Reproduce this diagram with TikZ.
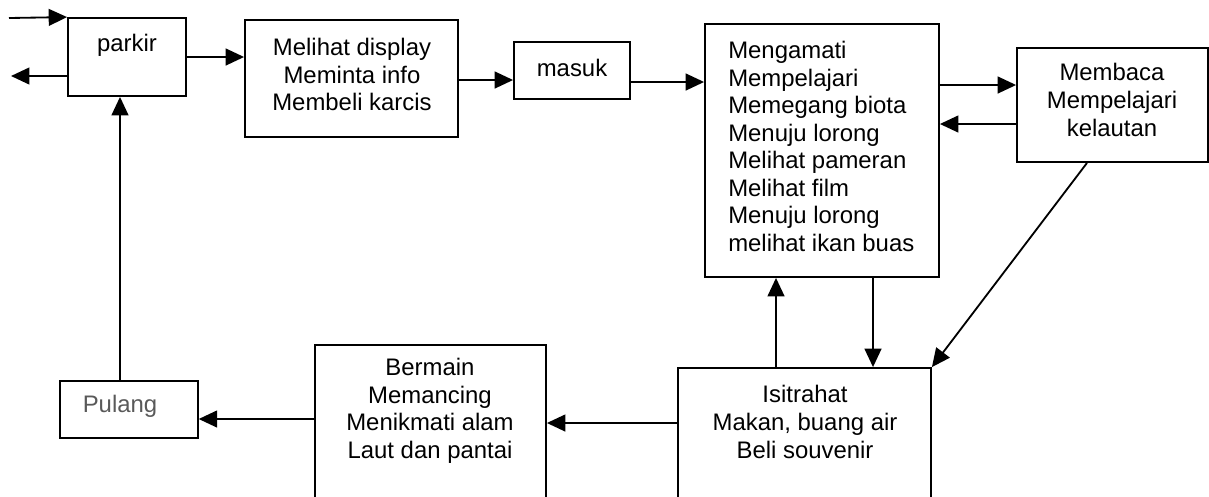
\documentclass[tikz,border=0pt]{standalone}
\usepackage{fontspec}
\setmainfont{Liberation Sans}
\usetikzlibrary{arrows.meta, fit}

\tikzset{
	box/.style={draw, line width=1.3pt, inner sep=0pt},
	lbl/.style={font=\fontsize{17}{19.6}\selectfont, align=center, inner sep=0pt},
	arr/.style={line width=1.3pt, -{Triangle[length=0.46cm, width=0.42cm]}}
}

\begin{document}
\begin{tikzpicture}[x=0.025cm, y=-0.025cm]
	\useasboundingbox (0,0) rectangle (1209,496);
	
	% boxes
	\node[box, fit={(68,18) (186,96)}] (parkir) {};
	\node[box, fit={(245,20) (458,137)}] (melihat) {};
	\node[box, fit={(514,42) (630,99)}] (masuk) {};
	\node[box, fit={(705,24) (939,277)}] (mengamati) {};
	\node[box, fit={(1017,48) (1208,162)}] (membaca) {};
	\node[box, fit={(678,368) (931,512)}] (isitrahat) {};
	\node[box, fit={(315,345) (546,512)}] (bermain) {};
	\node[box, line width=1pt, fit={(60,381) (198,438)}] (pulang) {};
	
	% texts
	\node[lbl] (parkirT) at (127,45) {parkir};
	\node[lbl] (melihatT) at (352,74.5) {Melihat display\\Meminta info\\Membeli karcis};
	\node[lbl] (masukT) at (572,68) {masuk};
	\node[lbl, align=left, anchor=west] (mengamatiT) at (728,146.5) {Mengamati\\Mempelajari\\Memegang biota\\Menuju lorong\\Melihat pameran\\Melihat film\\Menuju lorong\\melihat ikan buas};
	\node[lbl] (membacaT) at (1112,100) {Membaca\\Mempelajari\\kelautan};
	\node[lbl] (isitrahatT) at (805,422) {Isitrahat\\Makan, buang air\\Beli souvenir};
	\node[lbl] (bermainT) at (430,411) {Bermain\\Memancing\\Menikmati alam\\Laut dan pantai};
	\node[lbl, text=black!65] (pulangT) at (120,406) {Pulang};
	
	% connectors
	\coordinate (masukIn) at (9,18);
	\coordinate (keluar) at (11,76);
	\draw[arr] (masukIn) -- (parkir.north west);
	\draw[arr] (parkir.west |- keluar) -- (keluar);
	\draw[arr] (parkir.east) -- (melihat.west |- parkir.east);
	\draw[arr] (melihat.east |- 0,80) -- (masuk.west |- 0,80);
	\draw[arr] (masuk.east |- 0,82) -- (mengamati.west |- 0,82);
	\draw[arr] (mengamati.east |- 0,85) -- (membaca.west |- 0,85);
	\draw[arr] (membaca.west |- 0,124) -- (mengamati.east |- 0,124);
	\draw[arr] (membaca.south -| 1087,0) -- (isitrahat.north east);
	\draw[arr] (mengamati.south -| 873,0) -- (isitrahat.north -| 873,0);
	\draw[arr] (isitrahat.north -| 776,0) -- (mengamati.south -| 776,0);
	\draw[arr] (isitrahat.west |- 0,423) -- (bermain.east |- 0,423);
	\draw[arr] (bermain.west |- 0,419) -- (pulang.east |- 0,419);
	\draw[arr] (pulang.north -| 120,0) -- (parkir.south -| 120,0);
	
\end{tikzpicture}
\end{document}
